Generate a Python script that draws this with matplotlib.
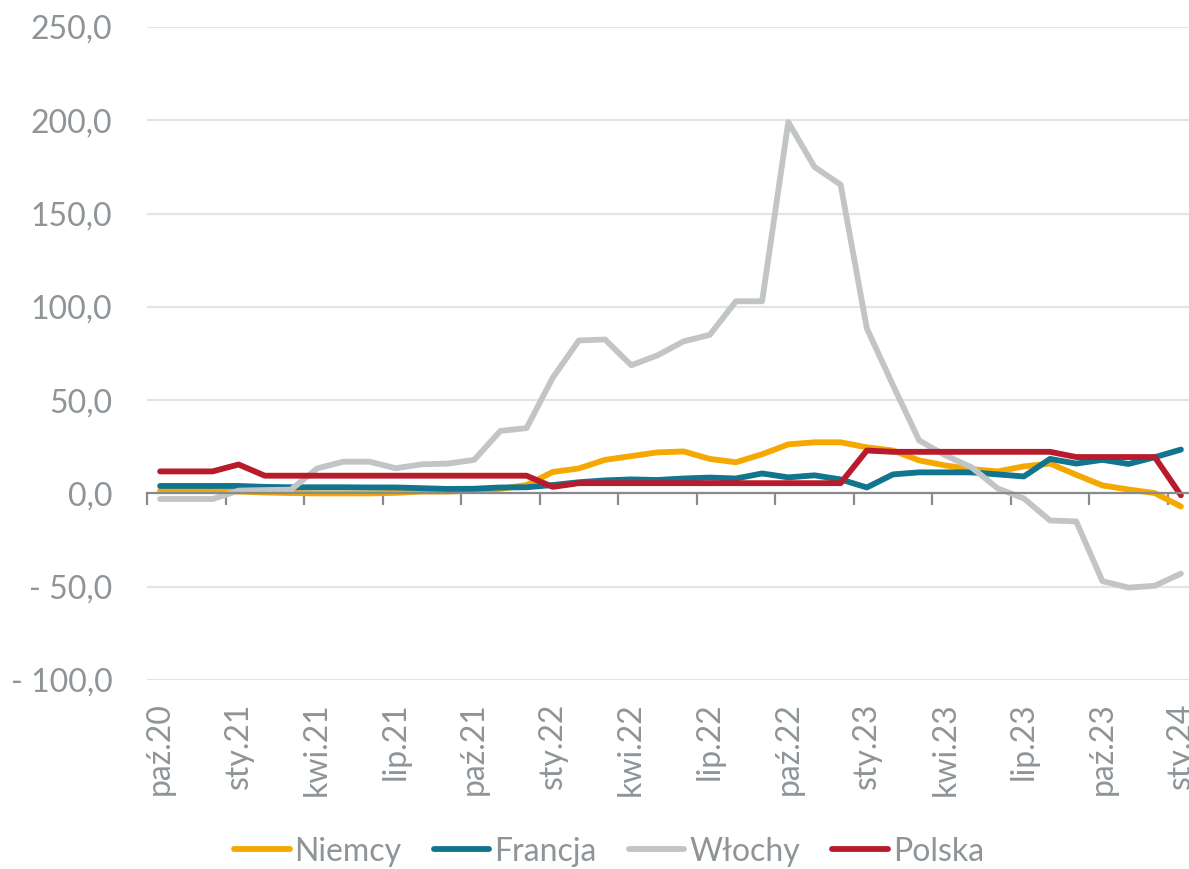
import numpy as np
import matplotlib
matplotlib.use('Agg')
import matplotlib.pyplot as plt
from matplotlib import ticker

plt.rcParams['font.family'] = ['Lato', 'DejaVu Sans']

# miesiące od paź.20 do sty.24 (40 obserwacji), podpis co 3 miesiące
tickLabels = ['paź.20', 'sty.21', 'kwi.21', 'lip.21', 'paź.21', 'sty.22', 'kwi.22',
              'lip.22', 'paź.22', 'sty.23', 'kwi.23', 'lip.23', 'paź.23', 'sty.24']

niemcy = [1.5, 1.5, 1.3, 1.0, 0.5, 0.2, 0.0, 0.0, 0.0, 0.3,
          1.0, 1.0, 1.5, 2.5, 4.5, 11.5, 13.4, 18.0, 20.0, 22.0,
          22.5, 18.5, 16.7, 21.0, 26.3, 27.4, 27.4, 24.7, 23.0, 17.7,
          15.0, 13.0, 11.8, 14.5, 16.0, 10.0, 4.3, 2.1, 0.2, -7.0]

francja = [4.0, 4.0, 4.0, 4.0, 3.5, 3.3, 3.3, 3.3, 3.2, 3.2,
           2.8, 2.4, 2.5, 3.2, 3.3, 4.5, 6.0, 7.0, 7.5, 7.2,
           8.0, 8.5, 8.0, 10.7, 8.6, 9.7, 7.5, 3.2, 10.2, 11.3,
           11.3, 11.3, 10.2, 9.1, 18.5, 16.0, 18.0, 15.8, 19.4, 23.5]

wlochy = [-3.0, -3.0, -3.0, 1.5, 1.8, 2.0, 13.4, 17.0, 17.0, 13.5,
          15.6, 16.0, 18.0, 33.5, 35.0, 62.0, 82.0, 82.5, 68.7, 74.0,
          81.5, 85.0, 103.0, 103.0, 199.0, 175.0, 165.5, 88.5, 58.0, 28.4,
          20.4, 14.0, 2.7, -2.7, -14.5, -15.0, -47.0, -50.5, -49.5, -43.0]

polska = [11.8, 11.8, 11.8, 15.5, 9.5, 9.5, 9.5, 9.5, 9.5, 9.5,
          9.5, 9.5, 9.5, 9.5, 9.5, 3.5, 5.5, 5.5, 5.5, 5.5,
          5.5, 5.5, 5.5, 5.5, 5.5, 5.5, 5.5, 23.0, 22.3, 22.3,
          22.3, 22.3, 22.3, 22.3, 22.3, 19.5, 19.5, 19.5, 19.5, -1.0]

seriesNames = ['Niemcy', 'Francja', 'Włochy', 'Polska']
seriesColors = ['#f5a800', '#11758f', '#c2c5c6', '#b81b2b']

textColor = '#8e9497'
axisColor = '#8a8a8a'
fontSize = 23

fig = plt.figure(figsize=(11.89, 8.69), dpi=100)
ax = fig.add_axes([147 / 1189, 1 - 680 / 869, 1047 / 1189, 653 / 869])

x = np.arange(len(niemcy))
for values, name, color in zip([niemcy, francja, wlochy, polska], seriesNames, seriesColors):
    ax.plot(x, values, color=color, lw=4.2, label=name,
            solid_capstyle='round', solid_joinstyle='round')

ax.set_xlim(-0.5, len(x) - 0.5)
ax.set_ylim(-100, 250)
ax.set_yticks(np.arange(-100, 251, 50))
ax.yaxis.set_major_formatter(ticker.FuncFormatter(
    lambda v, p: ('- ' if v < 0 else '') + f'{abs(v):.1f}'.replace('.', ',')))
ax.grid(axis='y', color='#e4e4e4', lw=1.6)
ax.set_axisbelow(True)

for side in ['top', 'right', 'left']:
    ax.spines[side].set_visible(False)
ax.spines['bottom'].set_position(('data', 0))
ax.spines['bottom'].set_color(axisColor)
ax.spines['bottom'].set_linewidth(1.6)

# kreski osi między kategoriami, co kwartał
ax.set_xticks(np.arange(-0.5, len(x), 3))
ax.tick_params(axis='x', length=8.5, width=1.6, color=axisColor, labelbottom=False)
ax.tick_params(axis='y', length=0, pad=25, labelsize=fontSize, labelcolor=textColor)

# podpisy miesięcy pod wykresem
sec = ax.secondary_xaxis('bottom')
sec.set_xticks(x[::3], tickLabels, rotation=90, va='top', ha='center')
sec.tick_params(length=0, pad=16, labelsize=fontSize, labelcolor=textColor)
sec.spines['bottom'].set_visible(False)

fig.legend(loc='center', bbox_to_anchor=(0.512, 0.02), ncol=4, frameon=False,
           fontsize=fontSize, labelcolor=textColor, handlelength=1.75,
           handletextpad=0.15, columnspacing=1.0)

fig.savefig('out.png', dpi=100)
